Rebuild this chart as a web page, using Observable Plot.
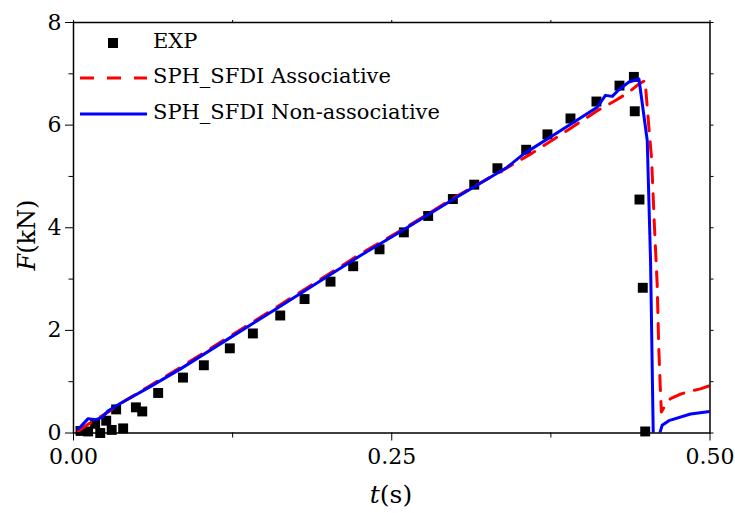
<!DOCTYPE html>
<html>
<head>
<meta charset="utf-8">
<script src="https://cdn.jsdelivr.net/npm/d3@7"></script>
<script src="https://cdn.jsdelivr.net/npm/@observablehq/plot@0.6"></script>
<style>
  html, body { margin: 0; padding: 0; background: white; }
  #wrap { position: relative; width: 735px; height: 513px; font-family: "DejaVu Serif", serif; color: black; }
  .lbl { position: absolute; white-space: nowrap; line-height: 1; }
  .leg { position: absolute; white-space: nowrap; font-size: 21px; line-height: 1; }
</style>
</head>
<body>
<div id="wrap"></div>
<script>
// ---- Data ----
const expT = [0.0055, 0.0115, 0.017, 0.021, 0.0257, 0.030, 0.0335, 0.039, 0.049, 0.054, 0.0665, 0.086,
  0.1024, 0.1228, 0.1409, 0.1624, 0.1815, 0.2019, 0.2197, 0.2404, 0.2595, 0.2786, 0.298, 0.3148, 0.333,
  0.3556, 0.3723, 0.3904, 0.4108, 0.4289, 0.4402, 0.4409, 0.4446, 0.4472, 0.4491];
const expF = [0.04, 0.03, 0.18, 0.0, 0.24, 0.06, 0.46, 0.09, 0.50, 0.42, 0.78, 1.08,
  1.32, 1.65, 1.94, 2.29, 2.61, 2.95, 3.25, 3.58, 3.91, 4.23, 4.56, 4.84, 5.16,
  5.52, 5.82, 6.13, 6.46, 6.77, 6.94, 6.27, 4.55, 2.83, 0.03];

const assocT = [0.004, 0.012, 0.02, 0.028, 0.035, 0.06, 0.0841, 0.12, 0.16, 0.2, 0.2255, 0.26, 0.30, 0.3407,
  0.36, 0.38, 0.4114, 0.4257, 0.4363, 0.444, 0.449, 0.4515, 0.4541, 0.4564, 0.4585, 0.4597, 0.461, 0.4618,
  0.465, 0.469, 0.476, 0.482, 0.4925, 0.4995];
const assocF = [0.04, 0.18, 0.30, 0.42, 0.55, 0.92, 1.28, 1.84, 2.46, 3.09, 3.49, 3.99, 4.60, 5.17,
  5.45, 5.77, 6.28, 6.48, 6.64, 6.80, 6.87, 6.10, 5.35, 4.00, 2.90, 1.70, 0.85, 0.41,
  0.55, 0.67, 0.75, 0.80, 0.86, 0.92];

const nonAssocT = [0.004, 0.0115, 0.0175, 0.022, 0.0277, 0.0343, 0.06, 0.0841, 0.12, 0.16, 0.2, 0.2255, 0.26,
  0.30, 0.3407, 0.3537, 0.38, 0.4114, 0.4179, 0.4232, 0.4284, 0.4363, 0.4442, 0.4507, 0.4533, 0.4554,
  0.457, 0.4595, 0.4606, 0.4624, 0.4677, 0.4847, 0.4998];
const nonAssocF = [0.08, 0.28, 0.26, 0.30, 0.44, 0.54, 0.90, 1.25, 1.81, 2.43, 3.06, 3.46, 3.97,
  4.58, 5.18, 5.44, 5.85, 6.35, 6.58, 6.56, 6.69, 6.84, 6.90, 5.70, 3.36, 0.0,
  -0.6, -0.3, 0.0, 0.15, 0.24, 0.37, 0.42];

const xMajor = [0, 0.25, 0.5];
const xMinor = [0.125, 0.375];
const yMajor = [0, 2, 4, 6, 8];
const yMinor = [1, 3, 5, 7];
const seriesNames = ["EXP", "SPH_SFDI Associative", "SPH_SFDI Non-associative"];

const exp = expT.map((t, i) => ({t, F: expF[i]}));
const assoc = assocT.map((t, i) => ({t, F: assocF[i]}));
const nonAssoc = nonAssocT.map((t, i) => ({t, F: nonAssocF[i]}));

const chart = Plot.plot({
  width: 735,
  height: 513,
  marginLeft: 73,
  marginRight: 25.5,
  marginTop: 22,
  marginBottom: 80.5,
  style: {fontFamily: "'DejaVu Serif', serif", fontSize: "22px", background: "white", color: "black", overflow: "visible"},
  x: {domain: [0, 0.5]},
  y: {domain: [0, 8]},
  marks: [
    Plot.axisY({ticks: yMajor, tickFormat: d => String(d), tickSize: 8, tickPadding: 4, tickStrokeWidth: 1.3, label: null, fontSize: 22}),
    Plot.axisY({ticks: yMinor, tickFormat: () => "", tickSize: 4.5, tickStrokeWidth: 1.3, label: null}),
    Plot.axisX({ticks: xMajor, tickFormat: d3.format(".2f"), tickSize: 8, tickPadding: 7, tickStrokeWidth: 1.3, label: null, fontSize: 22}),
    Plot.axisX({ticks: xMinor, tickFormat: () => "", tickSize: 5, tickStrokeWidth: 1.3, label: null}),
    Plot.axisX({anchor: "top", ticks: xMajor.concat(xMinor), tickFormat: () => "", tickSize: 3, label: null}),
    Plot.axisY({anchor: "right", ticks: yMajor.concat(yMinor), tickFormat: () => "", tickSize: 3, label: null}),
    Plot.dot(exp, {x: "t", y: "F", symbol: "square", r: 5.6, fill: "black", stroke: null}),
    Plot.line(assoc, {x: "t", y: "F", stroke: "#ff0000", strokeWidth: 3, strokeDasharray: "15,11", clip: true}),
    Plot.line(nonAssoc, {x: "t", y: "F", stroke: "#0000ff", strokeWidth: 3, clip: true}),
    Plot.frame({stroke: "black", strokeWidth: 1.5})
  ]
});

const wrap = document.getElementById("wrap");
chart.style.position = "absolute";
chart.style.left = "0px";
chart.style.top = "0px";
wrap.appendChild(chart);

// Axis titles
const yl = document.createElement("div");
yl.className = "lbl";
yl.style.fontSize = "24px";
yl.innerHTML = '<i>F</i>(kN)';
yl.style.left = "27px";
yl.style.top = "235px";
yl.style.transform = "translate(-50%,-50%) rotate(-90deg)";
wrap.appendChild(yl);

const xl = document.createElement("div");
xl.className = "lbl";
xl.style.fontSize = "25px";
xl.innerHTML = '<i>t</i>(s)';
xl.style.left = "391px";
xl.style.top = "494px";
xl.style.transform = "translate(-50%,-50%)";
wrap.appendChild(xl);

// Legend
const legRows = [
  {name: seriesNames[0], kind: "square", y: 43},
  {name: seriesNames[1], kind: "dash", y: 78},
  {name: seriesNames[2], kind: "solid", y: 114}
];
legRows.forEach(r => {
  const sw = document.createElementNS("http://www.w3.org/2000/svg", "svg");
  sw.setAttribute("width", "70");
  sw.setAttribute("height", "14");
  sw.style.position = "absolute";
  sw.style.left = "80px";
  sw.style.top = (r.y - 7) + "px";
  if (r.kind === "square") {
    sw.innerHTML = '<rect x="28" y="2" width="10" height="10" fill="black"/>';
  } else if (r.kind === "dash") {
    sw.innerHTML = '<line x1="0" y1="7" x2="67" y2="7" stroke="#ff0000" stroke-width="3" stroke-dasharray="14,13"/>';
  } else {
    sw.innerHTML = '<line x1="0" y1="7" x2="67" y2="7" stroke="#0000ff" stroke-width="3"/>';
  }
  wrap.appendChild(sw);
  const t = document.createElement("div");
  t.className = "leg";
  t.textContent = r.name;
  t.style.left = "153px";
  t.style.top = (r.y - 12) + "px";
  wrap.appendChild(t);
});
</script>
</body>
</html>
